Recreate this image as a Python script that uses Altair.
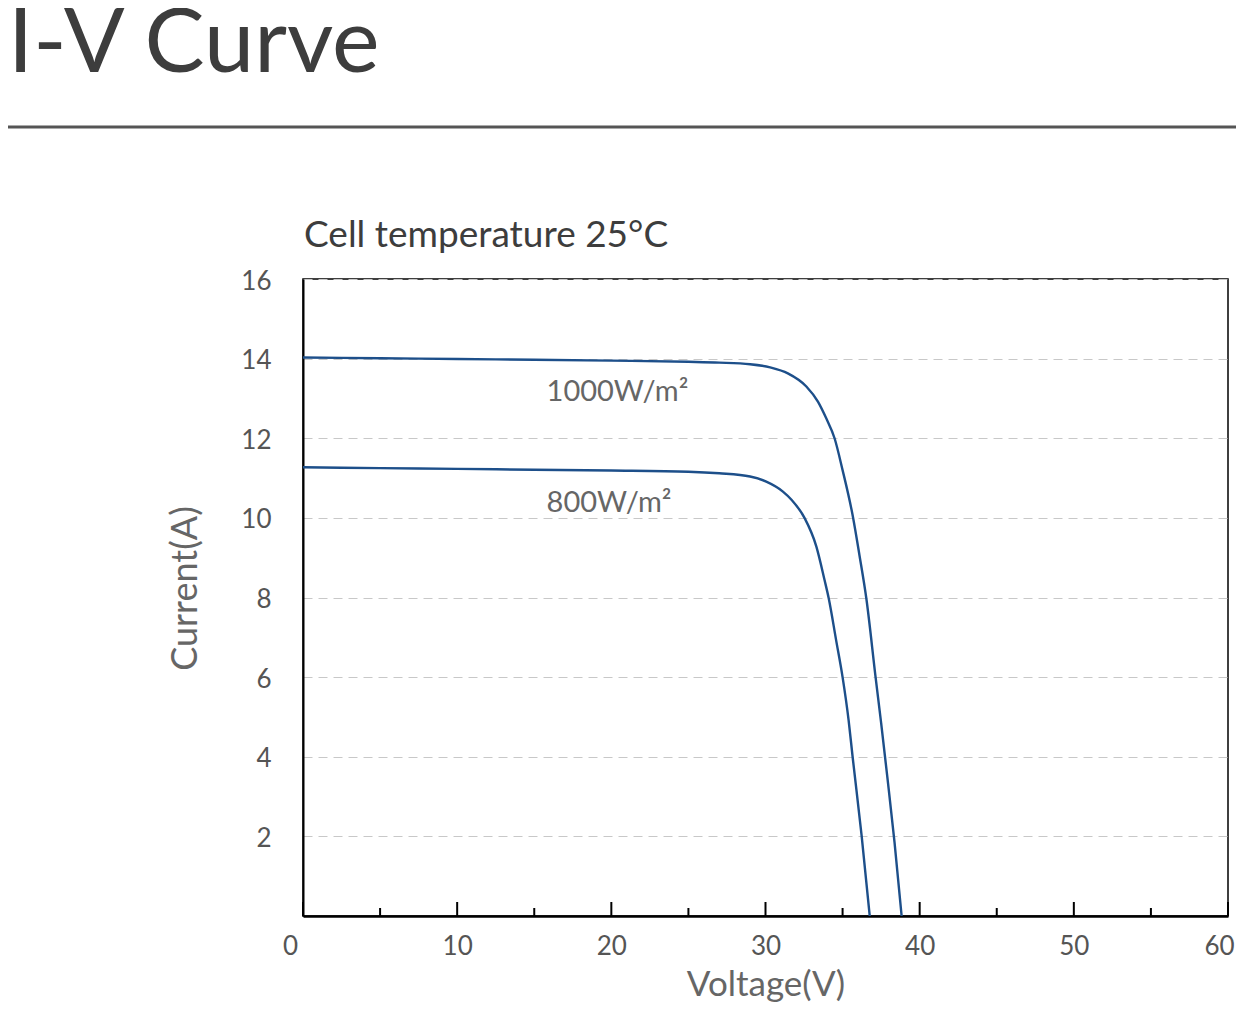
import altair as alt
import pandas as pd

# ---- data ----
v_1000 = [0, 5, 10, 15, 20, 25, 27, 29, 30.3, 31.45, 32.65, 33.4, 33.94, 34.48, 35.0, 35.67, 36.1, 36.55, 37.14, 37.5, 37.9, 38.37, 38.83]
i_1000 = [14.03, 14.01, 13.99, 13.97, 13.95, 13.92, 13.9, 13.86, 13.78, 13.63, 13.3, 12.92, 12.5, 12.0, 11.2, 10.03, 9.05, 7.95, 6.0, 4.85, 3.5, 1.85, 0.0]
v_800 = [0, 5, 10, 15, 20, 25, 27, 29, 30.05, 31.13, 31.7, 32.53, 33.3, 33.83, 34.1, 34.58, 35.0, 35.39, 35.65, 36.24, 36.76]
i_800 = [11.27, 11.25, 11.23, 11.21, 11.19, 11.16, 11.12, 11.04, 10.91, 10.66, 10.45, 10.0, 9.28, 8.44, 7.98, 6.93, 6.0, 4.92, 4.0, 2.0, 0.0]

series_names = ["1000W/m²", "800W/m²"]
label_v = [15.8, 15.8]
label_i = [13.15, 10.38]

x_major = [0, 10, 20, 30, 40, 50, 60]
x_minor = [5, 15, 25, 35, 45, 55]
y_ticks = [2, 4, 6, 8, 10, 12, 14, 16]

main_title = "I-V Curve"
sub_title = "Cell temperature 25°C"
x_title = "Voltage(V)"
y_title = "Current(A)"

# ---- layout ----
W, H = 925, 637
FONT = "Lato"
LINE_COLOR = "#1d4f8a"

df = pd.concat([
    pd.DataFrame({"v": v_1000, "i": i_1000, "series": series_names[0]}),
    pd.DataFrame({"v": v_800, "i": i_800, "series": series_names[1]}),
], ignore_index=True)
df_lab = pd.DataFrame({"v": label_v, "i": label_i, "t": series_names})
df_major = pd.DataFrame({"v": x_major})
df_minor = pd.DataFrame({"v": x_minor})

x_scale = alt.Scale(domain=[0, 60], nice=False, zero=False)
y_scale = alt.Scale(domain=[0, 16], nice=False, zero=False)

x_axis = alt.Axis(
    values=x_major, title=x_title, ticks=False, labelPadding=17,
    domainColor="black", domainWidth=2.5, grid=False, titlePadding=8,
    titleFontSize=35, labelFlush=False,
    labelOffset={"condition": [
        {"test": "datum.value == 0", "value": -13},
        {"test": "datum.value == 60", "value": -9},
    ], "value": 0})
y_axis = alt.Axis(
    values=y_ticks, title=y_title, ticks=False, labelPadding=32,
    domainColor="black", domainWidth=2, grid=True, gridColor="#c8c8c8",
    gridDash=[9, 6], gridWidth=1, titlePadding=36, titleFontSize=36,
    titleY=309, labelOffset=2)

X = alt.X("v:Q", scale=x_scale, axis=x_axis, title=x_title)
Y = alt.Y("i:Q", scale=y_scale, axis=y_axis, title=y_title)

lines = alt.Chart(df).mark_line(
    color=LINE_COLOR, strokeWidth=2.4, interpolate="monotone"
).encode(x=X, y=Y, detail="series:N")

labels = alt.Chart(df_lab).mark_text(
    align="left", baseline="middle", font=FONT, fontSize=29, color="#666666"
).encode(x=X, y=Y, text="t:N")

major = alt.Chart(df_major).mark_rule(color="black", strokeWidth=2).encode(
    x=X, y=alt.value(H), y2=alt.value(H - 14),
)
minor = alt.Chart(df_minor).mark_rule(color="black", strokeWidth=2).encode(
    x=X, y=alt.value(H), y2=alt.value(H - 8),
)

title_txt = alt.Chart(pd.DataFrame({"t": [main_title]})).mark_text(
    align="left", baseline="alphabetic", font=FONT, fontSize=90, color="#3d3d3d"
).encode(text="t:N", x=alt.value(-295), y=alt.value(-207))

sub_txt = alt.Chart(pd.DataFrame({"t": [sub_title]})).mark_text(
    align="left", baseline="alphabetic", font=FONT, fontSize=37, color="#3d3d3d"
).encode(text="t:N", x=alt.value(1), y=alt.value(-32))

hr = alt.Chart(pd.DataFrame({"a": [0]})).mark_rule(color="#555555", strokeWidth=3).encode(
    x=alt.value(-303), x2=alt.value(945), y=alt.value(-152)
)

chart = alt.layer(lines, labels, major, minor, title_txt, sub_txt, hr).properties(
    width=W, height=H,
    autosize=alt.AutoSizeParams(type="none"),
    padding={"left": 295, "top": 271, "right": 8, "bottom": 88},
).configure_view(
    stroke="black", strokeWidth=1.5
).configure_axis(
    labelFont=FONT, labelFontSize=26, labelColor="#555555",
    titleFont=FONT, titleColor="#666666", titleFontWeight="normal",
)

chart.save("out.html", embed_options={"renderer": "svg", "actions": False})
